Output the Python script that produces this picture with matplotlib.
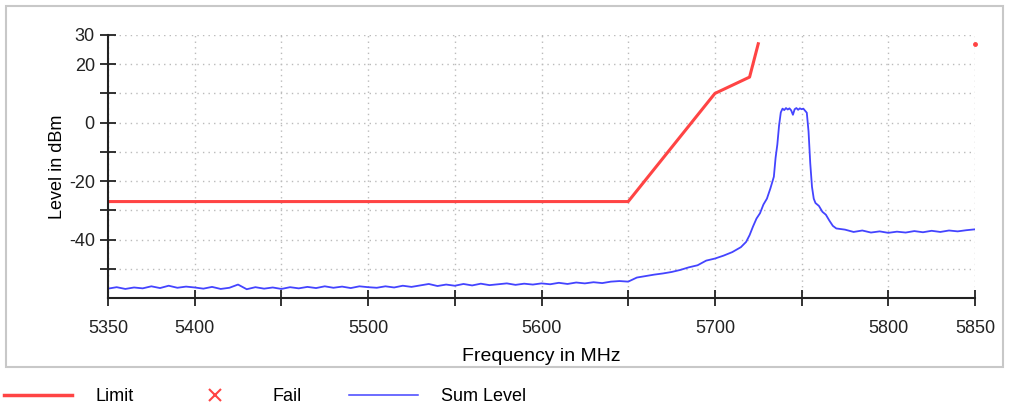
import matplotlib
matplotlib.use("Agg")
from matplotlib import pyplot as plt
from matplotlib.lines import Line2D
from matplotlib.patches import Rectangle

plt.rcParams['font.family'] = ['Liberation Sans', 'DejaVu Sans']

limit_freq = [5350, 5650, 5700, 5720, 5725]
limit_level = [-27, -27, 10, 15.6, 27]
# next limit segment starts right at the upper band edge, only its first point is visible
limit2_freq = [5850]
limit2_level = [27]

sum_freq = [
    5350, 5355, 5360, 5365, 5370, 5375, 5380, 5385, 5390, 5395,
    5400, 5405, 5410, 5415, 5420, 5425, 5430, 5435, 5440, 5445,
    5450, 5455, 5460, 5465, 5470, 5475, 5480, 5485, 5490, 5495,
    5500, 5505, 5510, 5515, 5520, 5525, 5530, 5535, 5540, 5545,
    5550, 5555, 5560, 5565, 5570, 5575, 5580, 5585, 5590, 5595,
    5600, 5605, 5610, 5615, 5620, 5625, 5630, 5635, 5640, 5645,
    5650, 5655, 5660, 5665, 5670, 5675, 5680, 5685, 5690, 5695,
    5700, 5705, 5710, 5715, 5718, 5720, 5722, 5724, 5726, 5728,
    5730, 5732, 5734, 5735, 5736, 5737, 5738, 5739, 5740, 5741,
    5742, 5743, 5744, 5745, 5746, 5747, 5748, 5749, 5750, 5751,
    5752, 5753, 5754, 5755, 5756, 5757, 5758, 5760, 5762, 5764,
    5766, 5768, 5770, 5775, 5780, 5785, 5790, 5795, 5800, 5805,
    5810, 5815, 5820, 5825, 5830, 5835, 5840, 5845, 5850,
]
sum_level = [
    -56.8, -56.3, -56.9, -56.4, -56.7, -56.0, -56.6, -55.8, -56.5, -56.1,
    -56.4, -56.8, -56.2, -56.9, -56.5, -55.4, -57.0, -56.3, -56.8, -56.4,
    -56.9, -56.3, -56.7, -56.2, -56.6, -56.0, -56.5, -56.1, -56.6, -56.0,
    -56.3, -56.5, -56.0, -56.4, -55.8, -56.2, -55.7, -55.2, -55.9, -55.4,
    -55.8, -55.2, -55.7, -55.1, -55.6, -55.3, -55.0, -55.5, -55.1, -55.4,
    -55.0, -55.3, -54.8, -55.2, -54.7, -55.0, -54.6, -54.9, -54.4, -54.2,
    -54.4, -53.0, -52.5, -52.0, -51.6, -51.1, -50.4, -49.5, -48.8, -47.2,
    -46.5, -45.5, -44.3, -42.6, -40.8, -38.5, -35.5, -32.8, -31.0, -28.0,
    -26.0, -22.5, -18.5, -12.0, -7.5, -1.0, 3.5, 4.8, 4.3, 5.0,
    4.5, 4.9, 4.2, 2.7, 4.6, 5.0, 4.4, 4.9, 4.6, 4.8,
    4.1, 3.4, -3.0, -14.0, -22.0, -26.0, -27.5, -28.5, -30.5, -31.5,
    -33.5, -35.3, -36.2, -36.6, -37.4, -36.9, -37.6, -37.2, -37.7, -37.3,
    -37.6, -37.1, -37.5, -37.0, -37.4, -36.9, -37.2, -36.8, -36.5,
]

x_ticks = [5350, 5400, 5450, 5500, 5550, 5600, 5650, 5700, 5750, 5800, 5850]
x_labels = ["5350", "5400", "", "5500", "", "5600", "", "5700", "", "5800", "5850"]
y_ticks = [-50, -40, -30, -20, -10, 0, 10, 20, 30]
y_labels = ["", "-40", "", "-20", "", "0", "", "20", "30"]

red = "#ff4444"
blue = "#4444ff"

fig = plt.figure(figsize=(10.09, 4.08), dpi=100)
fig.add_artist(Rectangle((6 / 1009, 1 - 367 / 408), 997 / 1009, 361 / 408,
                         transform=fig.transFigure, fill=False,
                         edgecolor="#c8c8c8", linewidth=1.5))

ax = fig.add_axes([108 / 1009, 1 - 298 / 408, 867 / 1009, 263 / 408])
ax.plot(sum_freq, sum_level, color=blue, linewidth=1.3)
ax.plot(limit_freq, limit_level, color=red, linewidth=2.2)
ax.plot(limit2_freq, limit2_level, "o", color=red, markersize=2.5,
        clip_on=False)

ax.set_xlim(5350, 5850)
ax.set_ylim(-60, 30)
ax.set_xticks(x_ticks)
ax.set_xticklabels(x_labels)
ax.set_yticks(y_ticks)
ax.set_yticklabels(y_labels)
ax.tick_params(direction="inout", length=12, width=1.3, labelsize=13,
               colors="#222222")
ax.tick_params(axis="x", pad=10)
ax.grid(True, color="#bbbbbb", linestyle=(0, (1, 3)), linewidth=1)
for side in ["top", "right"]:
    ax.spines[side].set_visible(False)
for side in ["left", "bottom"]:
    ax.spines[side].set_linewidth(1.5)
    ax.spines[side].set_color("#222222")

ax.set_xlabel("Frequency in MHz", fontsize=14, labelpad=8)
ax.set_ylabel("Level in dBm", fontsize=13, labelpad=2)

handles = [
    Line2D([], [], color=red, linewidth=2.5),
    Line2D([], [], color=red, marker="x", linestyle="none", markersize=9,
           markeredgewidth=1.5),
    Line2D([], [], color=blue, linewidth=1.1),
]
fig.legend(handles, ["Limit", "Fail", "Sum Level"], loc="center left",
           bbox_to_anchor=(0, 0.027), ncol=3, frameon=False, fontsize=13,
           handlelength=3.8, handletextpad=1.3, columnspacing=2.6,
           borderaxespad=0, borderpad=0.2)

fig.savefig("out.png", dpi=100)
